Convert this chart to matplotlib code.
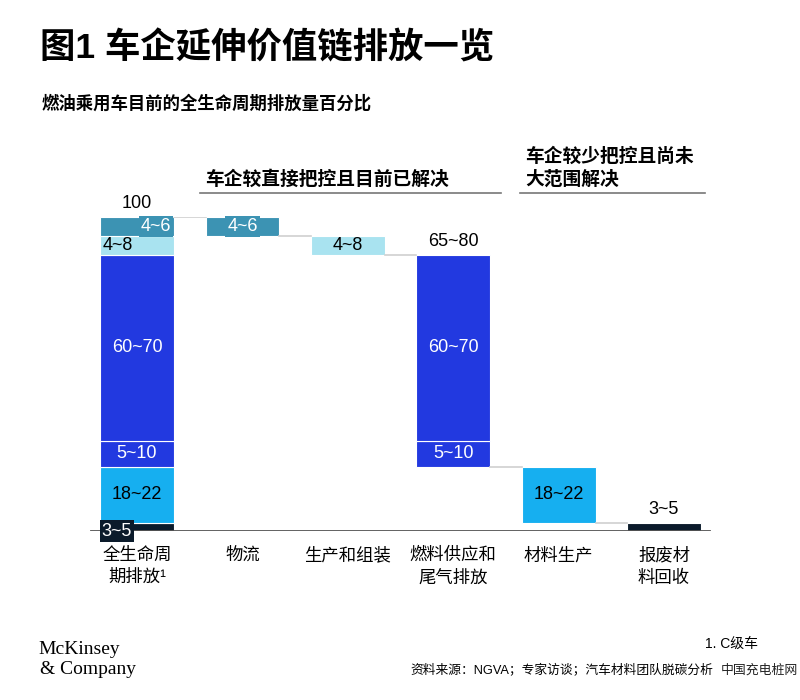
import matplotlib
matplotlib.use("Agg")
import matplotlib.pyplot as plt
import numpy as np

plt.rcParams['font.family'] = ['Liberation Sans', 'Noto Sans CJK SC', 'DejaVu Sans']

# 数据（自下而上）
categories = ['全生命周\n期排放¹', '物流', '生产和组装', '燃料供应和\n尾气排放', '材料生产', '报废材\n料回收']
seg_names = ['报废材料回收', '材料生产', '尾气', '燃料供应', '生产和组装', '物流']
seg_values = [2.5, 18.0, 8.3, 59.2, 5.8, 6.2]
seg_labels = ['3~5', '18~22', '5~10', '60~70', '4~8', '4~6']
seg_colors = ['#0b1b2b', '#16aff0', '#2239e0', '#2239e0', '#a9e3f0', '#3c93b3']
seg_textcolors = ['white', 'black', 'white', 'white', 'black', 'white']
# 每个分段在瀑布图中属于哪一列
seg_column = [5, 4, 3, 3, 2, 1]
total_label = '100'
fuel_total_label = '65~80'

fig = plt.figure(figsize=(8, 7), dpi=100)
ax = fig.add_axes([0.1054, 0.2414, 0.7905, 0.4486])
ax.set_xlim(-0.5, 5.5)
ax.set_ylim(0, 100)
ax.axis('off')

width = 0.70
bottoms = np.concatenate([[0], np.cumsum(seg_values)[:-1]])

# 第一列：堆叠柱
ax.bar(0, seg_values, width, bottom=bottoms, color=seg_colors, edgecolor='white', linewidth=0.8)
# 其余列：瀑布
for i, v in enumerate(seg_values):
    ax.bar(seg_column[i], v, width, bottom=bottoms[i], color=seg_colors[i],
           edgecolor='white', linewidth=0.8)

# 连接线
col_top = {}
col_bot = {}
for i, v in enumerate(seg_values):
    c = seg_column[i]
    col_bot[c] = min(col_bot.get(c, 1e9), bottoms[i])
    col_top[c] = max(col_top.get(c, -1e9), bottoms[i] + v)
for c in range(5):
    level = col_top[c + 1] if c == 0 else col_bot[c]
    ax.plot([c + width / 2, c + 1 - width / 2], [level, level], color='#d0d0d0', lw=1.2)

ax.axhline(0, color='#555555', lw=1.3, xmin=0.01, xmax=0.99)

fs_num = 13
# 分段标签
for i, v in enumerate(seg_values):
    y = bottoms[i] + v / 2
    c = seg_column[i]
    lab = seg_labels[i]
    tc = seg_textcolors[i]
    if i == 0:
        # 第一列底部黑色小块
        ax.text(-0.19, 0, lab, ha='center', va='center', color='white', fontsize=fs_num,
                bbox=dict(boxstyle='square,pad=0.12', fc=seg_colors[0], ec='none'), clip_on=False)
        ax.text(c, bottoms[i] + v + 1.5, lab, ha='center', va='bottom', color='black', fontsize=fs_num)
    elif i == 5:
        ax.text(0.18, y, lab, ha='center', va='center', color='white', fontsize=fs_num,
                bbox=dict(boxstyle='square,pad=0.12', fc=seg_colors[5], ec='none'))
        ax.text(c, y, lab, ha='center', va='center', color='white', fontsize=fs_num,
                bbox=dict(boxstyle='square,pad=0.12', fc=seg_colors[5], ec='none'))
    elif i == 4:
        ax.text(-0.18, y, lab, ha='center', va='center', color=tc, fontsize=fs_num)
        ax.text(c, y, lab, ha='center', va='center', color=tc, fontsize=fs_num)
    else:
        ax.text(0, y, lab, ha='center', va='center', color=tc, fontsize=fs_num)
        ax.text(c, y, lab, ha='center', va='center', color=tc, fontsize=fs_num)

ax.text(0, 101.5, total_label, ha='center', va='bottom', fontsize=fs_num)
ax.text(3, col_top[3] + 1.5, fuel_total_label, ha='center', va='bottom', fontsize=fs_num)

# 类别标签
for i, cat in enumerate(categories):
    ax.text(i, -5.0, cat, ha='center', va='top', fontsize=12.5, linespacing=1.45, clip_on=False)

# 分组标题
ax.plot([0.6, 3.45], [107.5, 107.5], color='#777777', lw=1.2, clip_on=False)
ax.text(0.65, 109.0, '车企较直接把控且目前已解决', ha='left', va='bottom', fontsize=13.5,
        fontweight='bold', clip_on=False)
ax.plot([3.63, 5.39], [107.5, 107.5], color='#777777', lw=1.2, clip_on=False)
ax.text(3.68, 109.0, '车企较少把控且尚未\n大范围解决', ha='left', va='bottom', fontsize=13.5,
        fontweight='bold', linespacing=1.3, clip_on=False)

# 标题
fig.text(40 / 800, 1 - 48 / 700, '图1 车企延伸价值链排放一览', fontsize=25.5, fontweight='bold', va='center')
fig.text(42 / 800, 1 - 103 / 700, '燃油乘用车目前的全生命周期排放量百分比', fontsize=12.5, fontweight='bold', va='center')

# 页脚
fig.text(38 / 800, 1 - 650 / 700, 'McKinsey', family='Liberation Serif', fontsize=14, va='center')
fig.text(40 / 800, 1 - 669 / 700, '& Company', family='Liberation Serif', fontsize=14, va='center')
fig.text(705 / 800, 1 - 644 / 700, '1. C级车', fontsize=10, va='center')
fig.text(410 / 800, 1 - 670 / 700, '资料来源：NGVA；专家访谈；汽车材料团队脱碳分析', fontsize=9.2, va='center')
fig.text(721 / 800, 1 - 670 / 700, '中国充电桩网', fontsize=9.3, va='center', color='#222222')

fig.savefig('out.png', dpi=100, facecolor='white')
